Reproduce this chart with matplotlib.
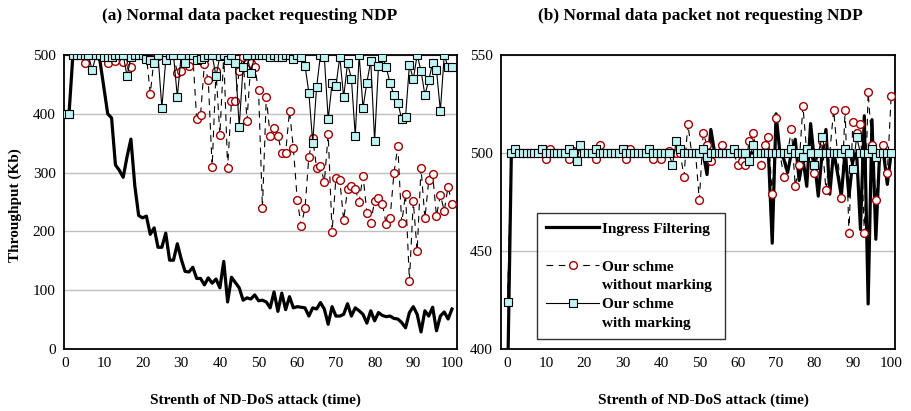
import matplotlib
matplotlib.use("Agg")
import matplotlib.pyplot as plt
from matplotlib.lines import Line2D

plt.rcParams['font.family'] = ['Liberation Serif', 'DejaVu Serif']

x = list(range(101))

# Panel (a)
a_ingress = [400, 400, 500, 500, 500, 500, 500, 500, 500, 490,
             445, 400, 393, 313, 304, 292, 327, 357, 278, 227,
             223, 226, 195, 206, 173, 173, 197, 151, 151, 179,
             153, 132, 131, 139, 120, 120, 109, 121, 112, 119,
             104, 149, 80, 122, 113, 104, 83, 87, 85, 92,
             82, 83, 80, 70, 97, 64, 95, 67, 89, 70,
             72, 71, 70, 56, 70, 68, 79, 68, 42, 72,
             56, 56, 59, 77, 56, 70, 65, 59, 44, 65,
             48, 62, 57, 55, 56, 52, 51, 45, 36, 62,
             72, 59, 29, 65, 56, 71, 31, 56, 63, 51, 68]
a_nomark = [400, 400, 500, 500, 500, 486, 500, 500, 500, 500,
            500, 487, 500, 490, 500, 488, 500, 480, 500, 500,
            500, 500, 434, 494, 498, 500, 500, 500, 500, 470,
            473, 500, 481, 500, 391, 398, 485, 457, 310, 472,
            364, 500, 308, 422, 422, 473, 497, 388, 487, 480,
            440, 239, 429, 362, 375, 362, 334, 334, 405, 341,
            254, 210, 239, 327, 358, 308, 311, 284, 365, 199,
            291, 287, 219, 272, 277, 272, 250, 295, 232, 215,
            252, 256, 247, 212, 223, 299, 345, 214, 264, 116,
            251, 166, 308, 222, 287, 297, 226, 262, 235, 276, 247]
a_mark = [400, 400, 500, 500, 500, 500, 500, 474, 500, 500,
          496, 496, 496, 500, 500, 500, 464, 496, 500, 500,
          500, 494, 491, 486, 500, 410, 491, 500, 500, 429,
          500, 486, 500, 500, 491, 494, 496, 500, 500, 464,
          498, 500, 491, 500, 486, 378, 480, 500, 469, 500,
          500, 500, 500, 497, 500, 497, 496, 500, 500, 494,
          500, 497, 482, 436, 351, 445, 500, 496, 391, 452,
          447, 497, 428, 486, 460, 362, 500, 410, 453, 490,
          354, 482, 497, 479, 452, 432, 419, 391, 395, 483,
          459, 500, 473, 432, 457, 487, 474, 405, 500, 479, 480]

# Panel (b)
b_ingress = [380, 500, 500, 500, 500, 500, 500, 500, 500, 500,
             500, 500, 500, 500, 500, 500, 500, 500, 500, 500,
             500, 500, 500, 500, 500, 500, 500, 500, 500, 500,
             500, 500, 500, 500, 500, 500, 500, 500, 500, 500,
             500, 500, 500, 500, 500, 500, 500, 500, 500, 500,
             500, 500, 489, 512, 500, 500, 500, 500, 500, 500,
             500, 500, 500, 500, 500, 500, 500, 500, 500, 454,
             520, 500, 497, 490, 500, 507, 486, 497, 483, 515,
             496, 478, 500, 512, 479, 501, 490, 478, 501, 478,
             496, 500, 461, 519, 423, 517, 456, 500, 500, 484, 500]
b_nomark = [424, 500, 500, 500, 500, 500, 500, 500, 500, 500,
            497, 502, 500, 500, 500, 500, 497, 501, 500, 500,
            500, 500, 500, 497, 504, 500, 500, 500, 500, 500,
            500, 497, 502, 500, 500, 500, 500, 500, 497, 500,
            497, 500, 501, 500, 500, 500, 488, 515, 500, 500,
            476, 510, 504, 496, 500, 500, 504, 500, 500, 500,
            494, 496, 494, 506, 510, 500, 494, 504, 508, 479,
            518, 500, 488, 500, 512, 483, 494, 524, 500, 500,
            490, 500, 506, 481, 500, 522, 500, 477, 522, 459,
            516, 510, 515, 459, 531, 504, 476, 500, 504, 490, 529]
b_mark = [424, 500, 502, 500, 500, 500, 500, 500, 500, 502,
          500, 500, 500, 500, 500, 500, 502, 500, 496, 504,
          500, 500, 500, 502, 500, 500, 500, 500, 500, 500,
          502, 500, 500, 500, 500, 500, 500, 502, 500, 500,
          500, 500, 500, 494, 506, 502, 500, 500, 500, 500,
          500, 502, 498, 500, 500, 500, 500, 500, 500, 502,
          500, 500, 500, 496, 504, 500, 500, 500, 500, 500,
          500, 500, 500, 500, 502, 500, 500, 498, 502, 500,
          494, 500, 508, 500, 500, 500, 500, 500, 502, 500,
          492, 508, 500, 500, 500, 502, 498, 500, 500, 500, 500]

titles = ["(a) Normal data packet requesting NDP",
          "(b) Normal data packet not requesting NDP"]
xlabel = "Strenth of ND-DoS attack (time)"
ylabel = "Throughput (Kb)"
legend_rows = ["Ingress Filtering", " ", "Our schme", "without marking",
               "Our schme", "with marking"]

SQ_FACE = '#BDF4F4'
CIRC = '#A00000'

fig = plt.figure(figsize=(9.11, 4.11), dpi=100)
axA = fig.add_axes([64/911, 1-349/411, (457-64)/911, (349-55)/411])
axB = fig.add_axes([501/911, 1-349/411, (895-501)/911, (349-55)/411])


def draw(ax, ing, nomark, mark):
    h1, = ax.plot(x, ing, color='black', lw=2.3, solid_joinstyle='round',
                  zorder=3)
    h2, = ax.plot(x, nomark, color='black', lw=0.8, ls=(0, (6, 5)),
                  marker='o', ms=5.6, mfc='white', mec=CIRC, mew=1.0, zorder=4)
    h3, = ax.plot(x, mark, color='black', lw=0.8, marker='s', ms=5.3,
                  mfc=SQ_FACE, mec='black', mew=0.8, zorder=5)
    for s in ax.spines.values():
        s.set_color('black')
        s.set_linewidth(1.3)
    ax.tick_params(length=0, labelsize=11, pad=6)
    ax.grid(axis='y', color='#BFBFBF', lw=1.0, zorder=0)
    ax.set_axisbelow(True)
    ax.set_xticks(range(0, 101, 10))
    return h1, h2, h3


draw(axA, a_ingress, a_nomark, a_mark)
axA.set_xlim(-0.3, 101.3)
axA.set_ylim(0, 500)
axA.set_yticks(range(0, 501, 100))

h1, h2, h3 = draw(axB, b_ingress, b_nomark, b_mark)
axB.set_xlim(-1.7, 101.0)
axB.set_ylim(400, 550)
axB.set_yticks([400, 450, 500, 550])

blank = Line2D([], [], color='none')
leg = axB.legend([h1, blank, h2, blank, h3, blank], legend_rows,
                 loc='upper left', bbox_to_anchor=(0.091, 0.463, 0.478, 0.0),
                 mode='expand', frameon=True, fancybox=False, handlelength=3.5,
                 borderpad=0.6, labelspacing=0.34, handletextpad=0.15,
                 borderaxespad=0.0,
                 prop={'weight': 'bold', 'size': 11})
leg.get_frame().set_edgecolor('black')
leg.get_frame().set_linewidth(1.0)

fig.text(250/911, 1-16/411, titles[0], ha='center', va='center',
         fontsize=12.5, fontweight='bold')
fig.text(700/911, 1-16/411, titles[1], ha='center', va='center',
         fontsize=12.5, fontweight='bold')
fig.text(255/911, 1-400/411, xlabel, ha='center', va='center',
         fontsize=11, fontweight='bold')
fig.text(703/911, 1-400/411, xlabel, ha='center', va='center',
         fontsize=11, fontweight='bold')
fig.text(15/911, 1-205/411, ylabel, ha='center', va='center', rotation=90,
         fontsize=11, fontweight='bold')

fig.savefig('out.png', dpi=100)
